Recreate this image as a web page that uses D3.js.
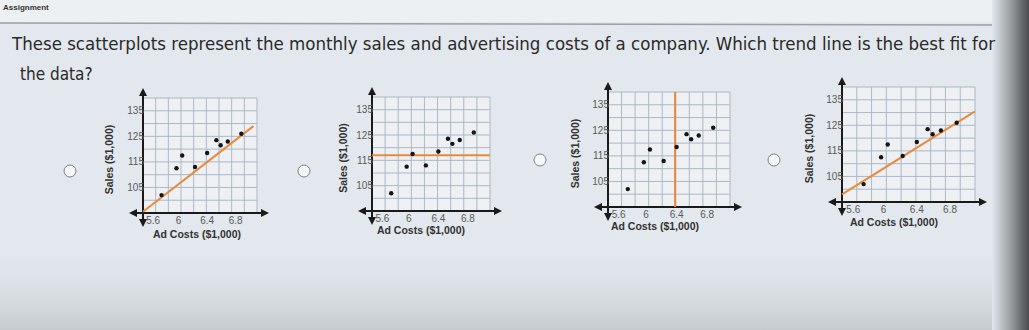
<!DOCTYPE html>
<html lang="en">
<head>
<meta charset="UTF-8">
<title>Trend line assignment</title>
<script src="https://d3js.org/d3.v7.min.js"></script>
<style>
  body { margin: 0; background: #e2e8ed; }
  .q { font-family: "Liberation Sans Narrow", "DejaVu Sans Condensed", Arial, sans-serif; font-size: 17px; fill: #2a2a2a; }
  .tick { font-family: Arial, "Liberation Sans", sans-serif; font-size: 10px; fill: #5a5a5a; }
  .title { font-family: Arial, "Liberation Sans", sans-serif; font-size: 10.5px; fill: #333; font-weight: 600; }
</style>
</head>
<body>
<svg width="1029" height="330"></svg>
<script>
// data
const adCosts = [5.76, 5.97, 6.05, 6.23, 6.40, 6.53, 6.59, 6.69, 6.88];
const sales   = [102, 112.5, 117.5, 113, 118.5, 123.5, 121.5, 123, 126];
const xTicks = [5.6, 6, 6.4, 6.8];
const xTickLabels = ["5.6", "6", "6.4", "6.8"];
const yTicks = [105, 115, 125, 135];
// candidate trend lines, as two end points each
const lineA = [[5.5, 95.5], [7.05, 129]];
const lineB = [[5.5, 117], [7.1, 117]];
const lineC = [[6.38, 95], [6.38, 140]];
const lineD = [[5.5, 98], [7.1, 130.5]];

const W = 1029, H = 330;
const svg = d3.select("svg");

// backdrop: screen photo, lighter top bar, dark right edge
const defs = svg.append("defs");
const g1 = defs.append("linearGradient").attr("id", "edge").attr("x1", 0).attr("x2", 1);
g1.append("stop").attr("offset", 0).attr("stop-color", "#e2e8ed");
g1.append("stop").attr("offset", 0.5).attr("stop-color", "#9a9ea2");
g1.append("stop").attr("offset", 1).attr("stop-color", "#4a4c4e");
const g2 = defs.append("linearGradient").attr("id", "bottom").attr("x1", 0).attr("x2", 0).attr("y1", 0).attr("y2", 1);
g2.append("stop").attr("offset", 0).attr("stop-color", "#e2e8ed").attr("stop-opacity", 0);
g2.append("stop").attr("offset", 1).attr("stop-color", "#c6cbcf").attr("stop-opacity", 1);
defs.append("marker").attr("id", "arr").attr("viewBox", "0 0 10 10")
  .attr("refX", 5).attr("refY", 5).attr("markerWidth", 4).attr("markerHeight", 4)
  .attr("orient", "auto-start-reverse")
  .append("path").attr("d", "M0,0L10,5L0,10Z").attr("fill", "#1a1a1a");

svg.append("rect").attr("width", W).attr("height", H).attr("fill", "#e2e8ed");
svg.append("rect").attr("y", 240).attr("width", W).attr("height", 90).attr("fill", "url(#bottom)");
svg.append("rect").attr("width", W).attr("height", 22).attr("fill", "#edf0f2");
svg.append("line").attr("x1", 0).attr("x2", 1000).attr("y1", 23).attr("y2", 25)
  .attr("stroke", "#9aa0a6").attr("stroke-width", 1.5);
svg.append("rect").attr("x", 992).attr("width", 37).attr("height", H).attr("fill", "url(#edge)");

svg.append("text").attr("x", 3).attr("y", 10)
  .attr("font-family", "Arial, sans-serif").attr("font-size", 8).attr("font-weight", "bold")
  .attr("fill", "#333").text("Assignment");

svg.append("text").attr("class", "q").attr("x", 12).attr("y", 50)
  .attr("textLength", 983).attr("lengthAdjust", "spacingAndGlyphs")
  .text("These scatterplots represent the monthly sales and advertising costs of a company. Which trend line is the best fit for");
svg.append("text").attr("class", "q").attr("x", 20).attr("y", 80).text("the data?");

// one panel per option
const panels = [
  { ox: 143, oy: 213, right: 257, top: 98, radio: [70, 171], line: lineA, xt: 197, yt: 238, yx: 113 },
  { ox: 372, oy: 211, right: 490, top: 97, radio: [304, 171], line: lineB, xt: 421, yt: 234, yx: 347 },
  { ox: 608, oy: 207, right: 730, top: 92, radio: [540, 160], line: lineC, xt: 655, yt: 230, yx: 579 },
  { ox: 842, oy: 202, right: 975, top: 87, radio: [774, 160], line: lineD, xt: 894, yt: 226, yx: 813 }
];

panels.forEach(p => {
  const g = svg.append("g");
  const x = d3.scaleLinear().domain([5.5, 7.1]).range([p.ox, p.right]);
  const y = d3.scaleLinear().domain([95, 140]).range([p.oy, p.top]);

  g.append("rect").attr("x", p.ox).attr("y", p.top)
    .attr("width", p.right - p.ox).attr("height", p.oy - p.top).attr("fill", "#eef0f3");

  const xs = d3.range(10).map(i => 5.5 + i * 1.6 / 9);
  g.selectAll(".vg").data(xs).join("line")
    .attr("x1", d => x(d)).attr("x2", d => x(d)).attr("y1", p.top).attr("y2", p.oy)
    .attr("stroke", "#a9b9c6").attr("stroke-width", 1);
  g.selectAll(".hg").data(d3.range(95, 141, 5)).join("line")
    .attr("x1", p.ox).attr("x2", p.right).attr("y1", d => y(d)).attr("y2", d => y(d))
    .attr("stroke", "#a9b9c6").attr("stroke-width", 1);

  // axes with arrows
  g.append("line").attr("x1", p.ox).attr("x2", p.ox).attr("y1", p.oy + 10).attr("y2", p.top - 6)
    .attr("stroke", "#1a1a1a").attr("stroke-width", 2)
    .attr("marker-start", "url(#arr)").attr("marker-end", "url(#arr)");
  g.append("line").attr("x1", p.ox - 10).attr("x2", p.right + 8).attr("y1", p.oy).attr("y2", p.oy)
    .attr("stroke", "#1a1a1a").attr("stroke-width", 2)
    .attr("marker-start", "url(#arr)").attr("marker-end", "url(#arr)");

  g.selectAll(".yt").data(yTicks).join("text").attr("class", "tick")
    .attr("x", p.ox + 1).attr("y", d => y(d)).attr("dy", "0.35em").attr("text-anchor", "end")
    .text(d => d);
  g.selectAll(".xt").data(xTicks).join("text").attr("class", "tick")
    .attr("x", (d, i) => x(d) + (i === 0 ? 3 : 0)).attr("y", p.oy + 11).attr("text-anchor", "middle")
    .text((d, i) => xTickLabels[i]);

  g.append("text").attr("class", "title").attr("x", p.xt).attr("y", p.yt)
    .attr("text-anchor", "middle").text("Ad Costs ($1,000)");
  g.append("text").attr("class", "title")
    .attr("transform", `translate(${p.yx},${(p.top + p.oy) / 2 + 4}) rotate(-90)`)
    .attr("text-anchor", "middle").text("Sales ($1,000)");

  g.append("line")
    .attr("x1", x(p.line[0][0])).attr("y1", y(p.line[0][1]))
    .attr("x2", x(p.line[1][0])).attr("y2", y(p.line[1][1]))
    .attr("stroke", "#e88a3c").attr("stroke-width", 2);

  g.selectAll(".pt").data(adCosts).join("circle")
    .attr("cx", d => x(d)).attr("cy", (d, i) => y(sales[i])).attr("r", 2.2)
    .attr("fill", "#151515");

  svg.append("circle").attr("cx", p.radio[0]).attr("cy", p.radio[1]).attr("r", 6)
    .attr("fill", "#f6f7f8").attr("stroke", "#7d8186").attr("stroke-width", 1);
});
</script>
</body>
</html>
